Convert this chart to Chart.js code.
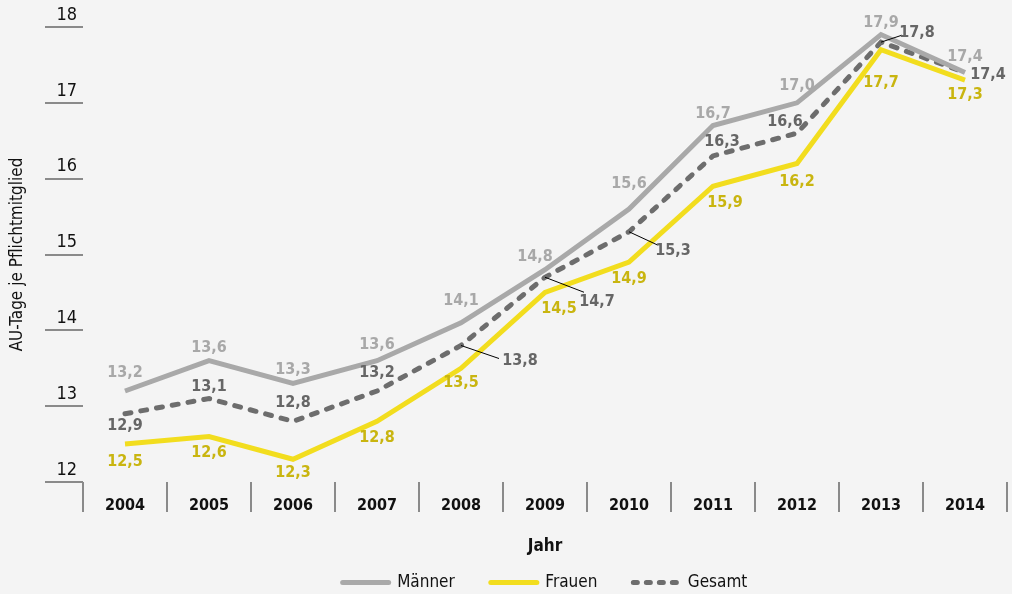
<!DOCTYPE html>
<html>
<head>
<meta charset="utf-8">
<title>AU-Tage je Pflichtmitglied</title>
<script src="https://cdn.jsdelivr.net/npm/chart.js@4.4.1/dist/chart.umd.min.js"></script>
<style>
html, body { margin: 0; padding: 0; background: #f4f4f4; overflow: hidden; }
#wrap { width: 1012px; height: 594px; }
</style>
</head>
<body>
<div id="wrap"><canvas id="line" width="1012" height="594"></canvas></div>
<script>
var years = ['2004', '2005', '2006', '2007', '2008', '2009', '2010', '2011', '2012', '2013', '2014'];
var maenner = [13.2, 13.6, 13.3, 13.6, 14.1, 14.8, 15.6, 16.7, 17.0, 17.9, 17.4];
var frauen = [12.5, 12.6, 12.3, 12.8, 13.5, 14.5, 14.9, 15.9, 16.2, 17.7, 17.3];
var gesamt = [12.9, 13.1, 12.8, 13.2, 13.8, 14.7, 15.3, 16.3, 16.6, 17.8, 17.4];
var yTicks = [12, 13, 14, 15, 16, 17, 18];

// where each value label sits relative to its point: [dx, dy, leaderX, leaderY]
var maennerLabelPos = [[0, -18], [0, -13], [0, -14], [0, -16], [0, -22], [-10, -13], [0, -25], [0, -12], [0, -17], [0, -12], [0, -16]];
var frauenLabelPos = [[0, 18], [0, 16], [0, 14], [0, 17], [0, 15], [14, 16], [0, 17], [12, 17], [0, 18], [0, 33], [0, 15]];
var gesamtLabelPos = [[0, 12], [0, -12], [0, -18], [0, -18], [59, 15, 38, 13], [52, 25, 39, 15], [44, 19, 28, 13], [9, -14], [-12, -11], [36, -9, 21, -7], [23, 2]];
var labelPos = [maennerLabelPos, frauenLabelPos, gesamtLabelPos];
var labelColors = ['#a8a8a8', '#c9b510', '#666666'];

var fontFamily = "'Liberation Sans Narrow', 'DejaVu Sans Condensed', 'Roboto', sans-serif";
Chart.defaults.font.family = fontFamily;
Chart.defaults.color = '#111';

// value labels (and the small leader lines for some of the Gesamt values)
var valueLabels = {
	id: 'valueLabels',
	afterDatasetsDraw: function (chart) {
		var ctx = chart.ctx;
		ctx.save();
		ctx.font = 'bold 16px ' + fontFamily;
		ctx.textAlign = 'center';
		ctx.textBaseline = 'middle';
		chart.data.datasets.forEach(function (ds, di) {
			var meta = chart.getDatasetMeta(di);
			meta.data.forEach(function (pt, i) {
				var p = labelPos[di][i];
				if (p.length > 2) {
					ctx.strokeStyle = '#000';
					ctx.lineWidth = 1;
					ctx.beginPath();
					ctx.moveTo(pt.x, pt.y);
					ctx.lineTo(pt.x + p[2], pt.y + p[3]);
					ctx.stroke();
				}
				ctx.fillStyle = labelColors[di];
				ctx.fillText(ds.data[i].toFixed(1).replace('.', ','), pt.x + p[0], pt.y + p[1]);
			});
		});
		ctx.restore();
	}
};

// centre the legend under the plot area instead of the whole canvas
var legendUnderPlot = {
	id: 'legendUnderPlot',
	afterLayout: function (chart) {
		chart.legend.left = chart.chartArea.left;
		chart.legend.right = chart.chartArea.right;
	}
};

var ctx = document.getElementById('line');

var line = new Chart(ctx, {
	type: 'line',
	data: {
		labels: years,
		datasets: [
			{
				label: 'Männer',
				data: maenner,
				borderColor: '#a9a9a9',
				backgroundColor: '#a9a9a9',
				borderWidth: 5,
				pointRadius: 0,
				tension: 0
			},
			{
				label: 'Frauen',
				data: frauen,
				borderColor: '#f2dd1e',
				backgroundColor: '#f2dd1e',
				borderWidth: 5,
				pointRadius: 0,
				tension: 0
			},
			{
				label: 'Gesamt',
				data: gesamt,
				borderColor: '#6d6d6d',
				backgroundColor: '#6d6d6d',
				borderWidth: 5,
				borderDash: [6, 10],
				borderCapStyle: 'round',
				pointRadius: 0,
				tension: 0
			}
		]
	},
	options: {
		responsive: false,
		animation: false,
		layout: {
			padding: { top: 27, right: 5, left: 0, bottom: -7 }
		},
		scales: {
			x: {
				offset: true,
				grid: { offset: true, drawOnChartArea: false, tickLength: 30, color: '#8a8a8a', lineWidth: 2 },
				border: { display: false },
				ticks: { color: '#111', padding: -16, font: { size: 16, weight: 'bold' } },
				title: { display: true, text: 'Jahr', color: '#111', padding: { top: 0, bottom: -19 }, font: { size: 17, weight: 'bold' } },
				afterFit: function (s) { s.height = 56; }
			},
			y: {
				min: 12,
				max: 18,
				afterBuildTicks: function (s) { s.ticks = yTicks.map(function (v) { return { value: v }; }); },
				grid: { drawOnChartArea: false, tickLength: 38, color: '#8a8a8a', lineWidth: 2 },
				border: { display: false },
				ticks: { color: '#111', crossAlign: 'center', padding: -32, labelOffset: -12, font: { size: 18 } },
				title: { display: true, text: 'AU-Tage je Pflichtmitglied', color: '#111', padding: { top: 7, bottom: 0 }, font: { size: 17 } },
				afterFit: function (s) { s.width = 83; }
			}
		},
		plugins: {
			legend: {
				position: 'bottom',
				labels: {
					usePointStyle: true,
					pointStyle: 'line',
					pointStyleWidth: 46,
					padding: 36,
					color: '#111',
					font: { size: 17 },
					generateLabels: function (chart) {
						return chart.data.datasets.map(function (ds, i) {
							return {
								text: ds.label,
								fillStyle: ds.borderColor,
								strokeStyle: ds.borderColor,
								fontColor: '#111',
								lineWidth: 5,
								lineCap: 'round',
								lineDash: ds.borderDash ? [4, 9] : [],
								pointStyle: 'line',
								hidden: false,
								datasetIndex: i
							};
						});
					}
				}
			},
			tooltip: { enabled: false }
		}
	},
	plugins: [valueLabels, legendUnderPlot]
});
</script>
</body>
</html>
